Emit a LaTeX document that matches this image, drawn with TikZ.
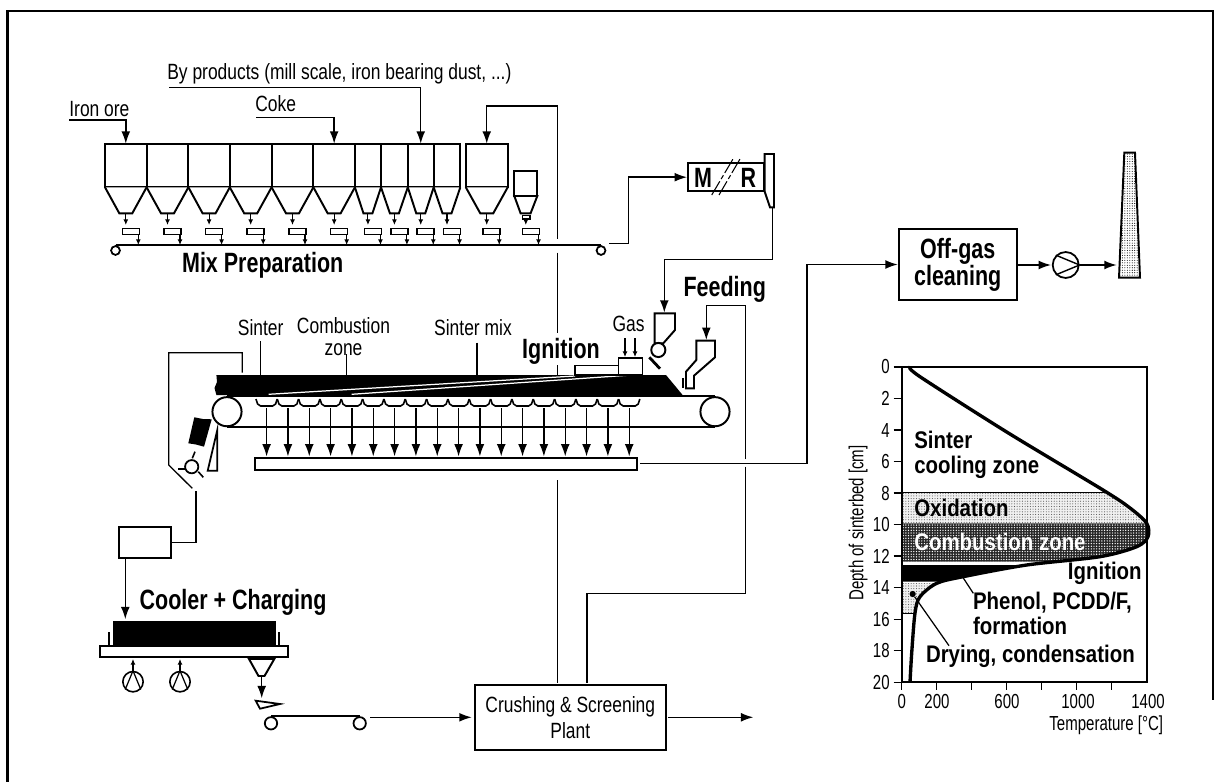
\documentclass[tikz,border=0pt]{standalone}
\usepackage{fontspec}
\usepackage{tikz}
\usetikzlibrary{arrows.meta,patterns.meta}
\setmainfont{Liberation Sans}
\newfontfamily\narrowfont[FakeStretch=0.79]{Liberation Sans}
\newfontfamily\headfont[FakeStretch=0.77]{Liberation Sans}
\newfontfamily\chartfont[FakeStretch=0.85]{Liberation Sans}
\newfontfamily\tickfont[FakeStretch=0.74]{Liberation Sans}
\tikzset{
  lab/.style={font=\narrowfont\fontsize{12.5}{12.5}\selectfont,inner sep=0pt},
  head/.style={font=\headfont\bfseries\fontsize{15.8}{16}\selectfont,inner sep=0pt},
  chartlab/.style={font=\chartfont\bfseries\fontsize{13.6}{14}\selectfont,inner sep=0pt},
  tick/.style={font=\tickfont\fontsize{11.5}{12}\selectfont,inner sep=0pt},
  flow/.style={line width=0.8pt,-{Latex[length=7pt,width=5pt]}},
  small/.style={line width=0.6pt,-{Latex[length=3.2pt,width=2.8pt]}},
  pipe/.style={line width=0.75pt},
  body/.style={line width=1.1pt,fill=white},
}
\begin{document}
\begin{tikzpicture}[x=0.5663pt,y=-0.5663pt]
    \useasboundingbox (0,0) rectangle (1226,782);
    % Frame
    \draw[line width=1.2pt] (7.5,782) -- (7.5,10.7) -- (1213,10.7) -- (1213,700);

    % Silos
    \foreach \l/\r [count=\i] in {105/146.6,146.6/188.4,188.4/229.8,229.8/271.6,271.6/313.4,313.4/354.9,354.9/381,381/407.8,407.8/433.7,433.7/460.3,465.8/507.7}{
      \pgfmathsetmacro\c{(\l+\r)/2}
      \pgfmathsetmacro\w{\r-\l>35?6.5:4.5}
      \draw[body] (\l,143.7) rectangle (\r,187.3);
      \draw[body] (\l,187.3) -- (\c-\w,213.3) -- (\c+\w,213.3) -- (\r,187.3);
      \coordinate (silo\i) at (\c,143.7);
      \draw[small] (\c,213.3) -- (\c,225);
      \draw[line width=0.9pt] (\c-3.5,228.3) rectangle (\c+13.5,234.3);
      \draw[small] (\c+12.5,234.3) -- (\c+12.5,245);
    }
    \draw[body] (514.3,170.7) rectangle (537.3,196);
    \draw[body] (514.3,196) -- (520.6,213.3) -- (530.6,213.3) -- (537.3,196) -- cycle;
    \draw[line width=0.7pt] (522.5,215.7) rectangle (530,219);
    \draw[small] (525.8,219) -- (525.8,225);
    \draw[line width=0.9pt] (522.5,228.3) rectangle (539.5,234.3);
    \draw[small] (538.5,234.3) -- (538.5,245);

    % Mix belt
    \node[draw,circle,line width=1pt,inner sep=0pt,minimum size=5pt] (rollA) at (115.5,250.5) {};
    \node[draw,circle,line width=1pt,inner sep=0pt,minimum size=5pt] (rollB) at (601,250.5) {};
    \draw[line width=1.3pt] (rollA.north) -- (rollB.north);
    \node[head] (mixlab) at (262.7,265.7) {Mix Preparation};

    % Feeds
    \node[lab,anchor=west] (orelab) at (69,109) {Iron ore};
    \node[lab,anchor=west] (cokelab) at (255,104) {Coke};
    \node[lab,anchor=west] (bylab) at (167,74) {By products (mill scale, iron bearing dust, ...)};
    \coordinate (oreA) at (69,120);
    \coordinate (cokeA) at (256,117.7);
    \coordinate (byA) at (169,87.3);
    \draw[flow] (oreA) -| (silo1);
    \draw[flow] (cokeA) -| (silo6);
    \draw[flow] (byA) -| (silo9);

    % Return fines line
    \coordinate (retA) at (557.7,106);
    \coordinate (retB) at (557.7,239);
    \coordinate (retC) at (557.7,252.7);
    \coordinate (retD) at (557.7,332.7);
    \coordinate (retE) at (557.7,365);
    \coordinate (retF) at (557.7,375);
    \coordinate (retG) at (557.7,480);
    \draw[flow] (retB) -- (retA) -| (silo11);
    \draw[pipe] (retC) -- (retD);
    \draw[pipe] (retE) -- (retF);

    % Drive
    \node[draw,line width=1.1pt,minimum width=43pt,minimum height=15.7pt,inner sep=0pt] (drive) at (725.9,177.2) {};
    \node[head] (mlab) at (703,177.7) {M};
    \node[head] (rlab) at (748.3,177.7) {R};
    \draw[line width=0.6pt,dash pattern=on 9pt off 1.5pt on 2.5pt off 1.5pt] (711.7,195) -- (733,159);
    \draw[line width=0.6pt,dash pattern=on 9pt off 1.5pt on 2.5pt off 1.5pt] (719,195) -- (740,159);
    \draw[line width=1.1pt,fill=white] (764.7,154) -- (774,154) -- (774,207.3) -- (770,207.3) -- (764.7,191.7) -- cycle;
    \coordinate (mixA) at (609,243.3);
    \draw[flow] (mixA) -- (628.3,243.3) |- (drive.west);
    \coordinate (plateA) at (772.3,207.3);
    \coordinate (hopA) at (664.3,312.7);
    \draw[flow,line width=0.9pt] (plateA) |- (664.3,259.3) -- (hopA);

    % Hoppers
    \draw[body] (654.7,313.3) -- (675,313.3) -- (675,330) -- (663.3,343.3) -- (654.7,343.3) -- cycle;
    \node[draw,circle,fill=white,line width=1.1pt,inner sep=0pt,minimum size=8pt] (igdrum) at (658.3,350) {};
    \draw[line width=1.6pt] (649.3,357.3) -- (660,368.7);
    \draw[body] (696.3,340.7) -- (715,340.7) -- (715,357.3) -- (694,375.7) -- (694,388.3) -- (686,388.3) -- (686,371.7) -- (696.3,360) -- cycle;
    \draw[line width=1pt] (682.7,378) -- (682.7,388);
    \node[head] (feedlab) at (724.7,289.3) {Feeding};
    \coordinate (feedA) at (745.7,459.3);
    \coordinate (feedB) at (706.3,340);
    \coordinate (feedC) at (745.7,466.7);
    \coordinate (feedD) at (587,682.7);
    \draw[flow] (feedA) |- (706.3,305.7) -- (feedB);
    \draw[pipe] (feedC) |- (587,593.7) -- (feedD);

    % Strand
    \fill (216.4,375) -- (666,375) -- (682.6,395) -- (216.4,395) -- (214.5,388) -- (217,382) -- cycle;
    \draw[white,line width=0.7pt] (268.6,394.3) -- (575,376);
    \draw[white,line width=0.7pt] (351.7,394.3) -- (642,374.3);
    \node[draw,circle,line width=1.1pt,inner sep=0pt,minimum size=16.5pt] (rollC) at (227,411.7) {};
    \node[draw,circle,line width=1.1pt,inner sep=0pt,minimum size=16.5pt] (rollD) at (715,411.7) {};
    \draw[line width=1.1pt] (rollC.north) -- (rollD.north);
    \draw[line width=1.1pt] (rollC.south) -- (rollD.south);
    \node[draw,line width=1.1pt,anchor=north west,inner sep=0pt,minimum width=216.8pt,minimum height=6.8pt] (bin) at (253.6,457.3) {};
    \foreach \i in {0,...,17}{
      \pgfmathsetmacro\c{266.6+21.33*\i}
      \draw[line width=0.9pt] (\c-10.6,399) -- (\c-9,404) -- (\c-6,406) -- (\c+6,406) -- (\c+9,404) -- (\c+10.6,399);
      \draw[flow] (\c,408.3) -- (\c,456.5);
    }

    % Strand labels
    \node[lab] (sinterlab) at (260.7,327.3) {Sinter};
    \node[lab,align=center] (combulab) at (343.5,336.5) {Combustion\\zone};
    \node[lab] (mixbedlab) at (473,327.3) {Sinter mix};
    \node[head] (iglab) at (561,351) {Ignition};
    \node[lab] (gaslab) at (628.5,324) {Gas};
    \coordinate (bedA) at (260.3,375);
    \coordinate (bedB) at (346.5,375);
    \coordinate (bedC) at (477,375);
    \draw[pipe] (260.3,341) -- (bedA);
    \draw[pipe] (346.5,354) -- (bedB);
    \draw[pipe] (477,342.7) -- (bedC);
    \draw[line width=0.9pt,fill=white] (575,365.3) rectangle (618.6,375);
    \draw[line width=0.9pt,fill=white] (618.6,358) rectangle (642.3,375);
    \draw[small] (625,338) -- (625,357);
    \draw[small] (635,338) -- (635,357);

    % Off-gas
    \node[draw,line width=1.1pt,minimum width=66.8pt,minimum height=40pt,inner sep=0pt,align=center,font=\headfont\bfseries\fontsize{15.8}{15.3}\selectfont] (offgas) at (957.7,264.5) {Off-gas\\cleaning};
    \node[draw,circle,line width=1pt,inner sep=0pt,minimum size=14.7pt] (fan) at (1065.7,265) {};
    \draw[line width=0.8pt] (fan.north west) -- (fan.east) -- (fan.south west);
    \coordinate (binA) at (640,463.3);
    \coordinate (fanA) at (1018,265);
    \coordinate (fanB) at (1051,265);
    \draw[flow] (binA) -- (807,463.3) |- (offgas.west);
    \draw[flow] (fanA) -- (fanB);
    \draw[pattern={Dots[distance=1.4pt,radius=0.3pt]},line width=1.1pt] (1119,277.7) -- (1140,277.7) -- (1135,152.7) -- (1124.3,152.7) -- cycle;
    \coordinate (stackA) at (1116.7,265);
    \coordinate (stackB) at (1080,265);
    \draw[flow] (stackB) -- (stackA);

    % Discharge
    \coordinate (dumpA) at (242.3,372.7);
    \coordinate (dumpB) at (168.7,465);
    \coordinate (dumpC) at (192.3,488.3);
    \draw[pipe] (dumpA) |- (168.7,352.7) -- (dumpB) -- (dumpC);
    \fill (194.3,417.3) -- (203,419) -- (211.7,419.3) -- (204,446.7) -- (196,444.5) -- (188.3,443.3) -- cycle;
    \draw[line width=1pt] (217.3,430) -- (207.7,470.7) -- (217.3,470.7) -- cycle;
    \node[draw,circle,line width=1pt,inner sep=0pt,minimum size=7.5pt] (crushA) at (191.7,466.7) {};
    \draw[line width=0.9pt] (192.3,458.3) -- (195,451.7);
    \draw[line width=0.9pt] (185,469) -- (178.3,469);
    \draw[line width=0.9pt] (198.3,471.7) -- (203.3,477.3);
    \node[draw,line width=1.1pt,minimum width=29.3pt,minimum height=17.5pt,inner sep=0pt] (hotbox) at (144.8,542.5) {};
    \coordinate (hotA) at (196,491);
    \draw[pipe] (hotA) |- (hotbox.east);
    \coordinate (coolA) at (125.3,558);
    \coordinate (coolB) at (125.3,619.3);
    \draw[flow,line width=0.9pt] (coolA) -- (coolB);
    \node[head,anchor=west] (coollab) at (139.3,602.7) {Cooler + Charging};
    \fill (112.7,621) rectangle (275.7,646.7);
    \draw[line width=1.1pt] (109,632.3) -- (109,645.7);
    \draw[line width=1.1pt] (279,632.3) -- (279,645.7);
    \draw[line width=1.1pt] (100,645.7) rectangle (287.7,656.7);
    \foreach \x/\n in {133/blowA,180/blowB}{
      \node[draw,circle,line width=0.9pt,inner sep=0pt,minimum size=11.5pt] (\n) at (\x,681.7) {};
      \draw[line width=0.7pt] (\n.south west) -- (\n.north) -- (\n.south east);
      \coordinate (\n top) at (\x,659);
      \draw[small] (\n.north) -- (\n top);
    }
    \draw[body] (249,659) -- (274.3,659) -- (264.5,676) -- (258.5,676) -- cycle;
    \coordinate (hopB) at (261.7,676.7);
    \coordinate (wedgeA) at (261.7,698.3);
    \draw[flow] (hopB) -- (wedgeA);
    \draw[line width=1pt] (255.7,700.7) -- (280,704) -- (260,708.7) -- cycle;
    \node[draw,circle,line width=1pt,inner sep=0pt,minimum size=7pt] (rollE) at (271,723.3) {};
    \node[draw,circle,line width=1pt,inner sep=0pt,minimum size=7pt] (rollF) at (359.7,723.3) {};
    \draw[line width=1.3pt] (rollE.north) -- (rollF.north);

    % Crushing
    \node[draw,line width=1.2pt,minimum width=108pt,minimum height=36.8pt,inner sep=0pt,align=center,font=\narrowfont\fontsize{12.5}{15}\selectfont] (crush) at (570.3,717.5) {Crushing \& Screening\\Plant};
    \coordinate (beltA) at (370,717.3);
    \coordinate (outA) at (753.3,717.3);
    \coordinate (crushB) at (668,717.3);
    \coordinate (crushC) at (471.7,717.3);
    \coordinate (retH) at (557.7,682.7);
    \draw[flow] (beltA) -- (crushC);
    \draw[flow] (crushB) -- (outA);
    \draw[pipe] (retG) -- (retH);

    % Chart
    \fill[black!6] (901.7,492.3) -- (1105,492.3) -- (1146.7,523) -- (901.7,523) -- cycle;
    \fill[pattern={Dots[distance=1.5pt,radius=0.3pt]},pattern color=black!70] (901.7,492.3) -- (1105,492.3) -- (1146.7,523) -- (901.7,523) -- cycle;
    \fill[black!85] (901.7,523.3) -- (1146.7,523.3) -- (1148,536.7) -- (1136.7,546.7) -- (1100,556.7) -- (1062,561.7) -- (901.7,561.7) -- cycle;
    \fill[pattern={Dots[distance=1.5pt,radius=0.4pt]},pattern color=white] (901.7,523.3) -- (1146.7,523.3) -- (1148,536.7) -- (1136.7,546.7) -- (1100,556.7) -- (1062,561.7) -- (901.7,561.7) -- cycle;
    \fill (901.7,565) -- (1026.7,565) -- (963,576.7) -- (940,581.7) -- (901.7,581.7) -- cycle;
    \fill[black!6] (901.7,583) -- (936.7,583) -- (920,596.7) -- (915,613.3) -- (901.7,613.3) -- cycle;
    \fill[pattern={Dots[distance=1.5pt,radius=0.3pt]},pattern color=black!70] (901.7,583) -- (936.7,583) -- (920,596.7) -- (915,613.3) -- (901.7,613.3) -- cycle;
    \draw[line width=0.7pt] (901.7,492.3) -- (1105,492.3);
    \draw[line width=0.7pt] (901.7,613.3) -- (915,613.3);
    \draw[line width=1.1pt] (901.7,367) rectangle (1146.7,682.3);
    \draw[line width=1.9pt] plot[smooth,tension=0.5] coordinates {(910,367) (920,376.7) (1006.7,432) (1103,490) (1130,508) (1146.7,523.3) (1148,536.7) (1136.7,546.7) (1100,556.7) (1026.7,565) (963,576.7) (936.7,583.3) (920,596.7) (915,613) (911.7,653) (910,682.3)};

    \foreach \d in {0,2,...,20}{
      \pgfmathsetmacro\y{367+15.765*\d}
      \draw[line width=0.8pt] (893.5,\y) -- (901.7,\y);
      \node[tick,anchor=east] (dep\d) at (890,\y) {\d};
    }
    \foreach \k in {0,...,6}{
      \pgfmathsetmacro\x{901.7+35*\k}
      \draw[line width=0.8pt] (\x,682.3) -- (\x,690);
    }
    \foreach \t/\x in {0/901.7,200/937,600/1007,1000/1078,1400/1148}{
      \node[tick] (tem\t) at (\x,702) {\t};
    }
    \node[tick,rotate=90] (deplab) at (858,523) {Depth of sinterbed [cm]};
    \node[tick,anchor=east] (temlab) at (1163.5,725) {Temperature [°C]};

    \node[chartlab,anchor=west,align=left] (coollab2) at (914,454.7) {Sinter\\cooling zone};
    \node[chartlab,anchor=west] (oxlab) at (914,508) {Oxidation};
    \node[chartlab,anchor=west,white] (comblab) at (914,541.5) {Combustion zone};
    \node[chartlab,anchor=east] (ignlab) at (1142,573.3) {Ignition};
    \node[chartlab,anchor=west,align=left] (phenlab) at (972.7,613.5) {Phenol, PCDD/F,\\formation};
    \node[chartlab,anchor=west] (drylab) at (925.7,656) {Drying, condensation};
    \node[circle,fill,inner sep=0pt,minimum size=3.5pt] (drydot) at (912.7,594) {};
    \coordinate (dryA) at (949,645.7);
    \draw[line width=0.7pt] (drydot) -- (dryA);
    \coordinate (phenA) at (963.3,578);
    \coordinate (phenB) at (973.3,593.3);
    \draw[line width=0.7pt] (phenA) -- (phenB);
\end{tikzpicture}
\end{document}
